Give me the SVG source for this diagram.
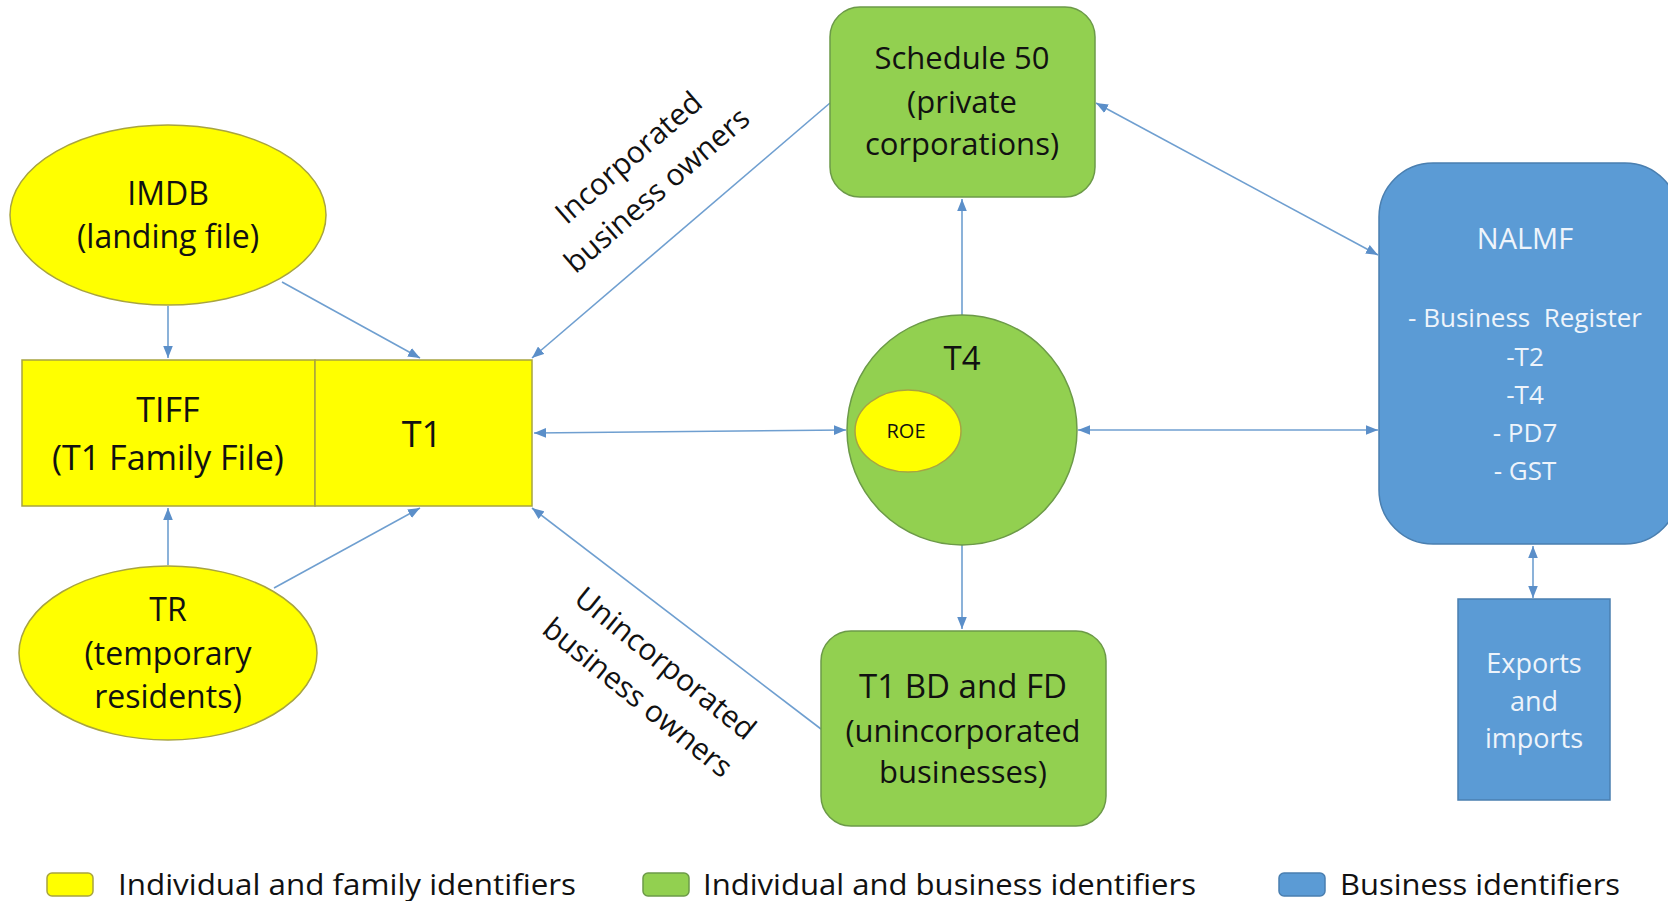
<svg xmlns="http://www.w3.org/2000/svg" width="1668" height="901" viewBox="0 0 1668 901">
  <style>
    .lbl { font-family: "Open Sans", "Liberation Sans", sans-serif; fill: #111; text-anchor: middle; }
    .wht { font-family: "Open Sans", "Liberation Sans", sans-serif; fill: #eef4fb; text-anchor: middle; }
    .yel { fill: #ffff00; stroke: #a8a440; stroke-width: 1.5; }
    .grn { fill: #92d050; stroke: #6c9a48; stroke-width: 1.5; }
    .blu { fill: #5b9bd5; stroke: #4a7fb0; stroke-width: 1.5; }
    .con { fill: none; stroke: #6f9fd0; stroke-width: 1.6; }
    .leg { font-family: "Open Sans", "Liberation Sans", sans-serif; fill: #111; font-size: 30px; }
  </style>
  <defs>
    <marker id="arr" viewBox="0 0 10 8" refX="10" refY="4" markerWidth="12" markerHeight="10" markerUnits="userSpaceOnUse" orient="auto-start-reverse">
      <path d="M0,0 L10,4 L0,8 z" fill="#5b8fc9"/>
    </marker>
  </defs>

  <rect width="1668" height="901" fill="#ffffff"/>

  <!-- connectors -->
  <g id="connectors">
    <path class="con" d="M168,306 L168,358" marker-end="url(#arr)"/>
    <path class="con" d="M282,282 L420,358" marker-end="url(#arr)"/>
    <path class="con" d="M168,565 L168,508" marker-end="url(#arr)"/>
    <path class="con" d="M274,588 L420,508" marker-end="url(#arr)"/>
    <path class="con" d="M830,103 L532,358" marker-end="url(#arr)"/>
    <path class="con" d="M821,729 L532,508" marker-end="url(#arr)"/>
    <path class="con" d="M534,433 L846,430" marker-start="url(#arr)" marker-end="url(#arr)"/>
    <path class="con" d="M962,315 L962,199" marker-end="url(#arr)"/>
    <path class="con" d="M962,545 L962,629" marker-end="url(#arr)"/>
    <path class="con" d="M1078,430 L1378,430" marker-start="url(#arr)" marker-end="url(#arr)"/>
    <path class="con" d="M1096,103 L1378,255" marker-start="url(#arr)" marker-end="url(#arr)"/>
    <path class="con" d="M1533,546 L1533,598" marker-start="url(#arr)" marker-end="url(#arr)"/>
  </g>

  <!-- edge labels -->
  <g id="label-incorporated" transform="translate(642,173) rotate(-41)">
    <text class="lbl" font-size="30" x="0" y="-10">Incorporated</text>
    <text class="lbl" font-size="30" x="0" y="33">business owners</text>
  </g>
  <g id="label-unincorporated" transform="translate(652,680) rotate(39)">
    <text class="lbl" font-size="30" x="0" y="-11">Unincorporated</text>
    <text class="lbl" font-size="30" x="0" y="33">business owners</text>
  </g>

  <!-- individual and family sources -->
  <g id="imdb">
    <ellipse class="yel" cx="168" cy="215" rx="158" ry="90"/>
    <text class="lbl" font-size="32" x="168" y="205">IMDB</text>
    <text class="lbl" font-size="32" x="168" y="248">(landing file)</text>
  </g>
  <g id="tiff">
    <rect class="yel" x="22" y="360" width="293" height="146"/>
    <text class="lbl" font-size="34" x="168" y="422">TIFF</text>
    <text class="lbl" font-size="34" x="168" y="470">(T1 Family File)</text>
  </g>
  <g id="t1">
    <rect class="yel" x="315" y="360" width="217" height="146"/>
    <text class="lbl" font-size="36" x="422" y="447">T1</text>
  </g>
  <g id="tr">
    <ellipse class="yel" cx="168" cy="653" rx="149" ry="87"/>
    <text class="lbl" font-size="32" x="168" y="621">TR</text>
    <text class="lbl" font-size="32" x="168" y="665">(temporary</text>
    <text class="lbl" font-size="32" x="168" y="708">residents)</text>
  </g>

  <!-- individual and business sources -->
  <g id="schedule50">
    <rect class="grn" x="830" y="7" width="265" height="190" rx="30" ry="30"/>
    <text class="lbl" font-size="31" x="962" y="69">Schedule 50</text>
    <text class="lbl" font-size="31" x="962" y="113">(private</text>
    <text class="lbl" font-size="31" x="962" y="155">corporations)</text>
  </g>
  <g id="t4">
    <circle class="grn" cx="962" cy="430" r="115"/>
    <text class="lbl" font-size="33" x="962" y="370">T4</text>
    <g id="roe">
      <ellipse class="yel" cx="908" cy="431" rx="53" ry="41"/>
      <text class="lbl" font-size="20" x="906" y="438">ROE</text>
    </g>
  </g>
  <g id="t1bd">
    <rect class="grn" x="821" y="631" width="285" height="195" rx="30" ry="30"/>
    <text class="lbl" font-size="33" x="963" y="698">T1 BD and FD</text>
    <text class="lbl" font-size="31" x="963" y="742">(unincorporated</text>
    <text class="lbl" font-size="31" x="963" y="783">businesses)</text>
  </g>

  <!-- business sources -->
  <g id="nalmf">
    <rect class="blu" x="1379" y="163" width="300" height="381" rx="54" ry="54"/>
    <text class="wht" font-size="29" x="1525" y="249">NALMF</text>
    <text class="wht" font-size="26" x="1525" y="327" xml:space="preserve">- Business  Register</text>
    <text class="wht" font-size="26" x="1525" y="366">-T2</text>
    <text class="wht" font-size="26" x="1525" y="404">-T4</text>
    <text class="wht" font-size="26" x="1525" y="442">- PD7</text>
    <text class="wht" font-size="26" x="1525" y="480">- GST</text>
  </g>
  <g id="exports">
    <rect class="blu" x="1458" y="599" width="152" height="201"/>
    <text class="wht" font-size="27" x="1534" y="673">Exports</text>
    <text class="wht" font-size="27" x="1534" y="711">and</text>
    <text class="wht" font-size="27" x="1534" y="748">imports</text>
  </g>

  <!-- legend -->
  <g id="legend">
    <rect class="yel" x="47" y="873" width="46" height="23" rx="5"/>
    <text class="leg" x="118" y="895" textLength="458" lengthAdjust="spacingAndGlyphs">Individual and family identifiers</text>
    <rect class="grn" x="643" y="873" width="46" height="23" rx="5"/>
    <text class="leg" x="703" y="895" textLength="493" lengthAdjust="spacingAndGlyphs">Individual and business identifiers</text>
    <rect class="blu" x="1279" y="873" width="46" height="23" rx="5"/>
    <text class="leg" x="1340" y="895" textLength="280" lengthAdjust="spacingAndGlyphs">Business identifiers</text>
  </g>
</svg>
